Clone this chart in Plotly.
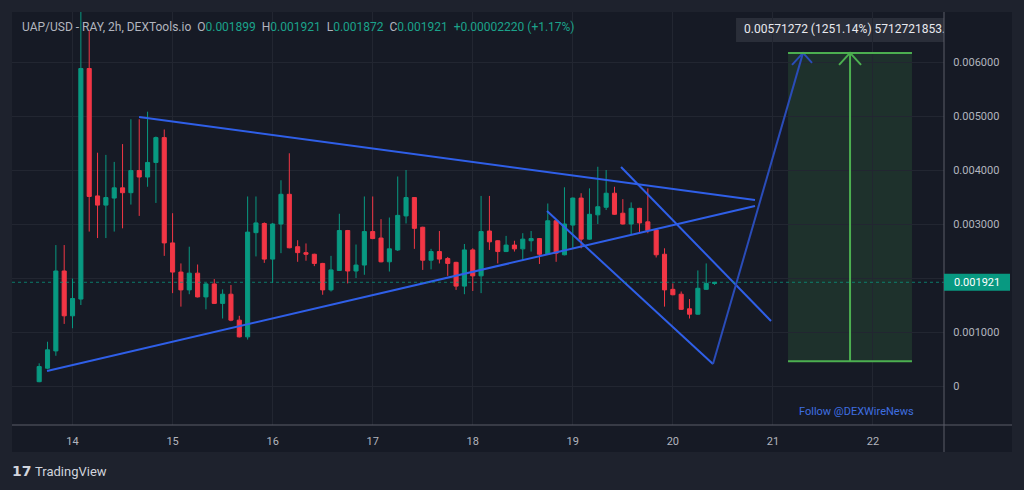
import plotly.graph_objects as go

# ---------------- DATA ----------------
# 2h candles starting 13th 16:00 (x in days of month)
candle_open = [0.000080, 0.000330, 0.000650, 0.002130, 0.001300, 0.001610, 0.005880, 0.003520, 0.003350, 0.003480,
               0.003670, 0.003580, 0.003990, 0.003870, 0.004140, 0.004600, 0.002650, 0.002110, 0.001780, 0.002090,
               0.001650, 0.001890, 0.001530, 0.001700, 0.001220, 0.000910, 0.002840, 0.003010, 0.002350, 0.003000,
               0.003550, 0.002580, 0.002470, 0.002440, 0.002270, 0.001780, 0.002140, 0.002880, 0.002130, 0.002240,
               0.002860, 0.002740, 0.002300, 0.002520, 0.003150, 0.003490, 0.002940, 0.002330, 0.002490, 0.002360,
               0.002290, 0.001850, 0.002520, 0.002040, 0.002870, 0.002690, 0.002490, 0.002610, 0.002540, 0.002690,
               0.002730, 0.002440, 0.003060, 0.002430, 0.002980, 0.003480, 0.002720, 0.003170, 0.003310, 0.003570,
               0.003200, 0.003000, 0.003290, 0.003040, 0.002890, 0.002440, 0.001790, 0.001700, 0.001430, 0.001330,
               0.001790, 0.001899]
candle_high = [0.000420, 0.000820, 0.002610, 0.002610, 0.001990, 0.007200, 0.006590, 0.004320, 0.004280, 0.004150,
               0.004480, 0.004940, 0.004940, 0.005080, 0.004620, 0.004750, 0.003200, 0.002270, 0.002580, 0.002250,
               0.001910, 0.001980, 0.001790, 0.001870, 0.001300, 0.003510, 0.003510, 0.003030, 0.003020, 0.003810,
               0.004310, 0.002700, 0.002640, 0.002450, 0.002280, 0.002410, 0.003190, 0.002890, 0.002620, 0.003510,
               0.003510, 0.003090, 0.003120, 0.003880, 0.004000, 0.003500, 0.002950, 0.002540, 0.002870, 0.002390,
               0.002300, 0.002630, 0.002550, 0.003520, 0.003520, 0.002700, 0.002780, 0.002690, 0.002830, 0.002870,
               0.002740, 0.003380, 0.003070, 0.003680, 0.003490, 0.003570, 0.003660, 0.004060, 0.004000, 0.003690,
               0.003460, 0.003400, 0.003300, 0.003660, 0.002900, 0.002550, 0.001900, 0.001750, 0.001610, 0.002140,
               0.002270, 0.001921]
candle_low = [0.000070, 0.000310, 0.000560, 0.001150, 0.001070, 0.001500, 0.002860, 0.002740, 0.002740, 0.002860,
              0.002920, 0.003360, 0.003150, 0.003690, 0.003390, 0.002410, 0.001720, 0.001470, 0.001700, 0.001640,
              0.001420, 0.001520, 0.001250, 0.001200, 0.000900, 0.000860, 0.002400, 0.002280, 0.001910, 0.002460,
              0.002550, 0.002300, 0.002320, 0.002220, 0.001690, 0.001750, 0.002130, 0.001900, 0.002000, 0.002060,
              0.002720, 0.002290, 0.002120, 0.002500, 0.003010, 0.002540, 0.002150, 0.002160, 0.002270, 0.002040,
              0.001780, 0.001700, 0.001760, 0.001720, 0.002520, 0.002270, 0.002480, 0.002490, 0.002330, 0.002490,
              0.002260, 0.002430, 0.002300, 0.002420, 0.002550, 0.002550, 0.002710, 0.003000, 0.003260, 0.003170,
              0.002990, 0.002810, 0.002830, 0.002830, 0.002380, 0.001470, 0.001680, 0.001410, 0.001250, 0.001320,
              0.001780, 0.001872]
candle_close = [0.000360, 0.000670, 0.002130, 0.001300, 0.001620, 0.005880, 0.003510, 0.003350, 0.003490, 0.003670,
                0.003580, 0.003990, 0.003870, 0.004140, 0.004600, 0.002650, 0.002110, 0.001780, 0.002090, 0.001650,
                0.001890, 0.001530, 0.001700, 0.001220, 0.000910, 0.002850, 0.003020, 0.002350, 0.003000, 0.003550,
                0.002560, 0.002470, 0.002440, 0.002270, 0.001780, 0.002150, 0.002880, 0.002130, 0.002240, 0.002860,
                0.002730, 0.002300, 0.002540, 0.003160, 0.003490, 0.002920, 0.002330, 0.002490, 0.002350, 0.002270,
                0.001850, 0.002520, 0.002040, 0.002860, 0.002670, 0.002490, 0.002610, 0.002540, 0.002720, 0.002730,
                0.002440, 0.003060, 0.002460, 0.003000, 0.003480, 0.002720, 0.003180, 0.003320, 0.003570, 0.003180,
                0.003000, 0.003290, 0.003020, 0.002880, 0.002430, 0.001780, 0.001690, 0.001420, 0.001330, 0.001810,
                0.001900, 0.001921]
start_day = 13 + 16 / 24          # first candle time (day of month)
candle_step = 2 / 24              # 2h timeframe
candle_x = [start_day + i * candle_step for i in range(len(candle_open))]

last_price = 0.001921
last_price_text = "0.001921"

# drawings (day, price)
trend_top_x = [14.665, 20.821]
trend_top_y = [0.004980, 0.003444]
trend_support_x = [13.745, 20.821]
trend_support_y = [0.000278, 0.003333]
channel_lower_x = [18.742, 20.401]
channel_lower_y = [0.003240, 0.000407]
channel_upper_x = [19.482, 20.981]
channel_upper_y = [0.004056, 0.001204]
projection_x = [20.401, 21.301]
projection_y = [0.000407, 0.006169]

range_box_x = [21.151, 22.390]
range_box_y = [0.000457, 0.006169]
range_arrow_x = 21.771
range_label = "0.00571272 (1251.14%) 5712721853\u2026"

x_tick_vals = [14, 15, 16, 17, 18, 19, 20, 21, 22]
x_tick_text = ["14", "15", "16", "17", "18", "19", "20", "21", "22"]
y_tick_vals = [0, 0.001, 0.002, 0.003, 0.004, 0.005, 0.006]
y_tick_text = ["0", "0.001000", "", "0.003000", "0.004000", "0.005000", "0.006000"]

header_title = "UAP/USD - RAY, 2h, DEXTools.io"
header_ohlc = [("O", "0.001899"), ("H", "0.001921"), ("L", "0.001872"), ("C", "0.001921")]
header_change = "+0.00002220 (+1.17%)"
follow_text = "Follow @DEXWireNews"
brand_text = "TradingView"

# ---------------- STYLE ----------------
OUTER_BG = "#1e222d"
PANEL_BG = "#161a25"
GRID = "#222631"
AXIS_LINE = "#5a5d68"
TXT = "#b2b5be"
UP = "#089981"
DOWN = "#f23645"
BLUE = "#2f5fe8"
BLUE_DARK = "#2a4cb8"
GREEN = "#4caf50"
FONT = "Roboto"

W, H = 1024, 490
ML, MR, MT, MB = 12, 80, 12, 65
PW, PH = W - ML - MR, H - MT - MB
x_range = [13.395, 22.71]
y_range = [-0.000722, 0.006926]
px_per_day = PW / (x_range[1] - x_range[0])
px_per_price = PH / (y_range[1] - y_range[0])

fig = go.Figure()

fig.add_trace(go.Candlestick(
    x=candle_x, open=candle_open, high=candle_high, low=candle_low, close=candle_close,
    increasing=dict(line=dict(color=UP, width=1), fillcolor=UP),
    decreasing=dict(line=dict(color=DOWN, width=1), fillcolor=DOWN),
    whiskerwidth=0, hoverinfo="skip", showlegend=False,
))

for xs, ys, col in [(trend_top_x, trend_top_y, BLUE), (trend_support_x, trend_support_y, BLUE),
                    (channel_lower_x, channel_lower_y, BLUE), (channel_upper_x, channel_upper_y, BLUE),
                    (projection_x, projection_y, BLUE_DARK)]:
    fig.add_trace(go.Scatter(x=xs, y=ys, mode="lines", line=dict(color=col, width=2),
                             hoverinfo="skip", showlegend=False))

# chevrons (arrow heads) built from the tips
def chevron(tx, ty, lx, ly, rx, ry):
    return ([tx + lx / px_per_day, tx, tx + rx / px_per_day],
            [ty - ly / px_per_price, ty, ty - ry / px_per_price])

cx, cy = chevron(projection_x[1], projection_y[1], -11, 12, 9, 10)
fig.add_trace(go.Scatter(x=cx, y=cy, mode="lines", line=dict(color=BLUE_DARK, width=2),
                         hoverinfo="skip", showlegend=False))

# range (measure) box
fig.add_shape(type="rect", xref="x", yref="y", x0=range_box_x[0], x1=range_box_x[1],
              y0=range_box_y[0], y1=range_box_y[1], fillcolor="rgba(76,175,80,0.16)",
              line=dict(width=0), layer="below")
for yv in range_box_y:
    fig.add_shape(type="line", xref="x", yref="y", x0=range_box_x[0], x1=range_box_x[1],
                  y0=yv, y1=yv, line=dict(color=GREEN, width=2))
fig.add_trace(go.Scatter(x=[range_arrow_x, range_arrow_x], y=range_box_y, mode="lines",
                         line=dict(color=GREEN, width=2), hoverinfo="skip", showlegend=False))
gx, gy = chevron(range_arrow_x, range_box_y[1], -11, 12, 11, 12)
fig.add_trace(go.Scatter(x=gx, y=gy, mode="lines", line=dict(color=GREEN, width=2),
                         hoverinfo="skip", showlegend=False))

# range label (clipped by plot area like the original)
lbl_y0 = range_box_y[1] + 11 / px_per_price
lbl_y1 = range_box_y[1] + 35 / px_per_price
lbl_x0 = range_box_x[0] - 52 / px_per_day
fig.add_shape(type="rect", xref="x", yref="y", x0=lbl_x0, x1=x_range[1] + 1,
              y0=lbl_y0, y1=lbl_y1, fillcolor="#2a2e39", line=dict(width=0), layer="below")
fig.add_trace(go.Scatter(x=[lbl_x0 + 8 / px_per_day], y=[(lbl_y0 + lbl_y1) / 2], mode="text",
                         text=[range_label], textposition="middle right", cliponaxis=True,
                         textfont=dict(family=FONT, size=12, color="#e8e9ee"),
                         hoverinfo="skip", showlegend=False))

# last price dotted line
fig.add_shape(type="line", xref="paper", yref="y", x0=0, x1=1, y0=last_price, y1=last_price,
              line=dict(color="rgba(8,153,129,0.75)", width=1, dash="dot"))

# panel background & frame lines
panel_x1 = (1012 - ML) / PW
panel_y0 = -(452 - (H - MB)) / PH
fig.add_shape(type="rect", xref="paper", yref="paper", x0=0, x1=panel_x1, y0=panel_y0, y1=1,
              fillcolor=PANEL_BG, line=dict(width=0), layer="below")
fig.add_shape(type="line", xref="paper", yref="paper", x0=0, x1=panel_x1, y0=0, y1=0,
              line=dict(color=AXIS_LINE, width=1))
fig.add_shape(type="line", xref="paper", yref="paper", x0=1, x1=1, y0=panel_y0, y1=1,
              line=dict(color=AXIS_LINE, width=1))

# last price tag
fig.add_shape(type="rect", xref="paper", yref="y", x0=1, x1=(1010 - ML) / PW,
              y0=last_price - 8.5 / px_per_price, y1=last_price + 8.5 / px_per_price,
              fillcolor=UP, line=dict(width=0))
fig.add_annotation(xref="paper", yref="y", x=(952 - ML) / PW, y=last_price, text=last_price_text,
                   showarrow=False, xanchor="left", yanchor="middle",
                   font=dict(family=FONT, size=11, color="#ffffff"))

# header
hdr = f"<span style='color:{TXT}'>{header_title}</span>"
for k, v in header_ohlc:
    hdr += f"&nbsp;&nbsp;<span style='color:{TXT}'>{k}</span><span style='color:#1ba38b'>{v}</span>"
hdr += f"&nbsp;&nbsp;<span style='color:#1ba38b'>{header_change}</span>"
fig.add_annotation(xref="paper", yref="paper", x=(20 - ML) / PW, y=(H - MB - 27) / PH, text=hdr,
                   showarrow=False, xanchor="left", yanchor="middle",
                   font=dict(family=FONT, size=12, color=TXT))

# follow text
fig.add_annotation(xref="paper", yref="paper", x=(797 - ML) / PW, y=(H - MB - 411) / PH,
                   text=follow_text, showarrow=False, xanchor="left", yanchor="middle",
                   font=dict(family=FONT, size=11, color="#3f6fe0"))

# brand
fig.add_annotation(xref="paper", yref="paper", x=(10 - ML) / PW, y=(H - MB - 471) / PH,
                   text="<b>17</b>", showarrow=False, xanchor="left", yanchor="middle",
                   font=dict(family="DejaVu Sans", size=14, color="#d1d4dc"))
fig.add_annotation(xref="paper", yref="paper", x=(33 - ML) / PW, y=(H - MB - 471) / PH,
                   text=brand_text, showarrow=False, xanchor="left", yanchor="middle",
                   font=dict(family=FONT, size=13, color="#d1d4dc"))

fig.update_layout(
    width=W, height=H, margin=dict(l=ML, r=MR, t=MT, b=MB),
    paper_bgcolor=OUTER_BG, plot_bgcolor=PANEL_BG,
    showlegend=False, hovermode=False, dragmode=False,
    xaxis=dict(range=x_range, tickvals=x_tick_vals, ticktext=x_tick_text, showgrid=True,
               gridcolor=GRID, gridwidth=1, zeroline=False, showline=False,
               ticks="outside", ticklen=6, tickcolor="rgba(0,0,0,0)",
               tickfont=dict(family=FONT, size=11, color=TXT), rangeslider=dict(visible=False),
               fixedrange=True),
    yaxis=dict(range=y_range, side="right", tickvals=y_tick_vals, ticktext=y_tick_text,
               showgrid=True, gridcolor=GRID, gridwidth=1, zeroline=False, showline=False,
               ticks="outside", ticklen=6, tickcolor="rgba(0,0,0,0)",
               tickfont=dict(family=FONT, size=11, color=TXT), fixedrange=True),
)

fig.write_html("out.html", config={"displayModeBar": False, "staticPlot": True})
